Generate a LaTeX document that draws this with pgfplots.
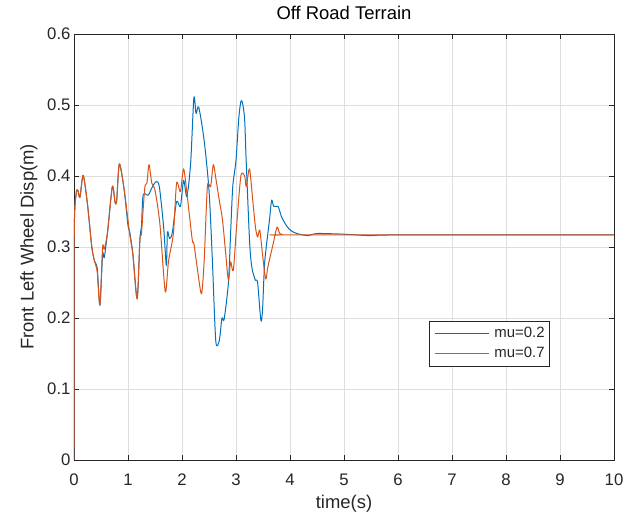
\documentclass[border=0pt]{standalone}
\usepackage{fontspec}
\setmainfont{Liberation Sans}
\usepackage{pgfplots}
\pgfplotsset{compat=1.18}

\definecolor{mblue}{rgb}{0,0.447,0.741}
\definecolor{morange}{rgb}{0.85,0.325,0.098}
\definecolor{axgray}{rgb}{0.15,0.15,0.15}
\definecolor{gridgray}{rgb}{0.87,0.87,0.87}

% front left wheel displacement, mu = 0.2
\pgfplotstableread{
t    d
0     0
0.005 0.32
0.04  0.375
0.07  0.38
0.11  0.37
0.17  0.401
0.25  0.36
0.33  0.30
0.38  0.28
0.43  0.27
0.48  0.218
0.53  0.29
0.56  0.285
0.62  0.32
0.71  0.385
0.76  0.363
0.79  0.365
0.84  0.417
0.93  0.38
1.0   0.33
1.03  0.322
1.09  0.29
1.17  0.227
1.22  0.31
1.25  0.33
1.28  0.373
1.375 0.373
1.44  0.383
1.52  0.392
1.58  0.385
1.66  0.328
1.71  0.274
1.73  0.321
1.77  0.312
1.82  0.32
1.9   0.364
1.97  0.357
2.03  0.394
2.09  0.371
2.16  0.418
2.22  0.51
2.26  0.488
2.31  0.497
2.41  0.45
2.5   0.38
2.56  0.286
2.625 0.168
2.69  0.168
2.74  0.2
2.78  0.198
2.86  0.25
2.9   0.319
2.94  0.385
3.0   0.422
3.05  0.48
3.09  0.505
3.12  0.503
3.16  0.48
3.19  0.418
3.25  0.31
3.28  0.279
3.31  0.265
3.36  0.253
3.4   0.25
3.46  0.197
3.49  0.21
3.53  0.277
3.59  0.319
3.62  0.338
3.66  0.366
3.7   0.357
3.78  0.357
3.84  0.343
3.91  0.333
4.0   0.324
4.125 0.319
4.34  0.316
4.5   0.319
5.0   0.318
5.5   0.316
6.0   0.317
10    0.317
}\lowmu

% front left wheel displacement, mu = 0.7
\pgfplotstableread{
t    d
0     0
0.005 0.32
0.04  0.375
0.07  0.38
0.11  0.37
0.17  0.401
0.25  0.36
0.33  0.30
0.38  0.28
0.43  0.265
0.48  0.218
0.53  0.30
0.56  0.297
0.62  0.32
0.71  0.385
0.76  0.363
0.79  0.365
0.84  0.417
0.93  0.38
1.03  0.319
1.09  0.29
1.17  0.227
1.22  0.31
1.25  0.32
1.31  0.383
1.35  0.39
1.39  0.416
1.44  0.39
1.5   0.38
1.59  0.333
1.69  0.237
1.75  0.28
1.84  0.319
1.9   0.39
1.97  0.378
2.03  0.41
2.1   0.37
2.19  0.31
2.22  0.305
2.28  0.272
2.36  0.234
2.41  0.28
2.47  0.385
2.53  0.385
2.58  0.416
2.63  0.395
2.69  0.366
2.75  0.338
2.81  0.29
2.86  0.253
2.9   0.279
2.95  0.267
3.01  0.328
3.09  0.4
3.16  0.4
3.19  0.385
3.25  0.41
3.31  0.366
3.36  0.328
3.4   0.314
3.44  0.324
3.49  0.29
3.55  0.255
3.59  0.272
3.69  0.305
3.76  0.328
3.81  0.319
3.87  0.317
4.0   0.317
10    0.317
}\highmu

\begin{document}
\begin{tikzpicture}
\path[use as bounding box] (-74bp,-55bp) rectangle (549bp,460bp);
\begin{axis}[
  scale only axis, width=540bp, height=426bp,
  at={(0,0)}, anchor=south west,
  xmin=0, xmax=10, ymin=0, ymax=0.6,
  xtick={0,1,2,3,4,5,6,7,8,9,10},
  ytick={0,0.1,0.2,0.3,0.4,0.5,0.6},
  /pgf/number format/assume math mode=true,
  /pgf/number format/fixed,
  tick align=inside, major tick length=5.4bp,
  tick style={axgray, line width=0.6bp},
  axis line style={axgray, line width=0.8bp},
  grid=major,
  major grid style={gridgray, line width=0.6bp},
  ticklabel style={font=\fontsize{16.8}{20}\selectfont, text=axgray},
  xticklabel style={anchor=base, yshift=-25bp},
  title={Off Road Terrain},
  title style={at={(0.5,1)}, anchor=base, yshift=9bp, inner sep=0pt,
    font=\fontsize{18.5}{22}\selectfont},
  xlabel={time(s)},
  xlabel style={at={(axis description cs:0.5,0)}, anchor=base, yshift=-48bp,
    inner sep=0pt, font=\fontsize{18.5}{22}\selectfont, text=axgray},
  ylabel={Front Left Wheel Disp(m)},
  ylabel style={at={(axis description cs:-0.075,0.5)}, anchor=base,
    inner sep=0pt, font=\fontsize{18.5}{22}\selectfont, text=axgray},
  legend cell align=left,
  legend style={at={(0.6574,0.3263)}, anchor=north west,
    draw=axgray, line width=0.8bp, fill=white,
    font=\fontsize{15}{18}\selectfont, text=axgray,
    inner xsep=5bp, inner ysep=2.5bp, row sep=0bp, column sep=5bp,
    nodes={inner xsep=0bp, inner ysep=0bp, text height=14bp, text depth=6bp}},
  legend image code/.code={
    \path (0bp,0bp) -- (54bp,0bp);
    \draw[#1, line width=1bp] (5bp,0bp) -- (54bp,0bp);},
  every axis plot/.append style={line width=1bp, line join=round},
]
\addplot[mblue, smooth, tension=0.45] table[x=t, y=d] {\lowmu};
\addlegendentry{mu=0.2}
\addplot[morange, smooth, tension=0.45] table[x=t, y=d] {\highmu};
\addlegendentry{mu=0.7}
\end{axis}
\end{tikzpicture}
\end{document}
